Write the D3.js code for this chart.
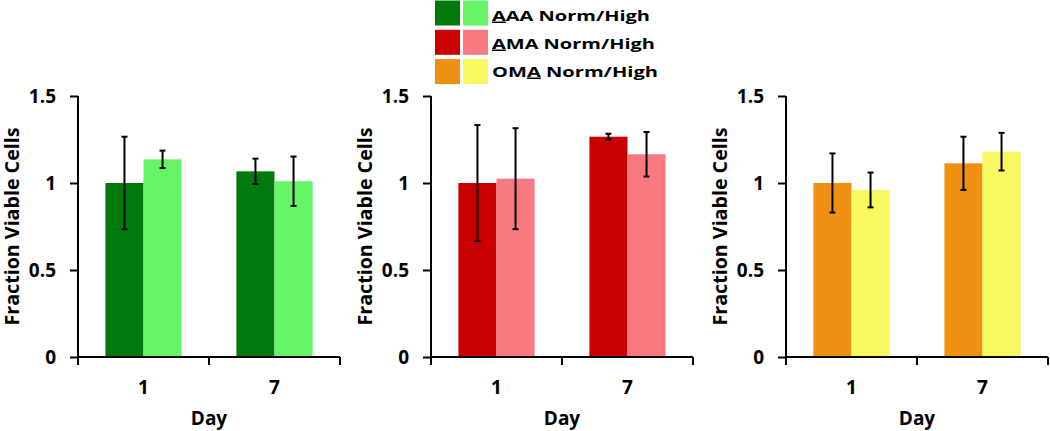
<!DOCTYPE html>
<html>
<head>
<meta charset="utf-8">
<script src="https://cdn.jsdelivr.net/npm/d3@7"></script>
<style>
  body { margin: 0; background: #fff; }
  svg { display: block; }
  text { font-family: "Open Sans", Lato, sans-serif; font-weight: bold; fill: #000; }
</style>
</head>
<body>
<div id="container"></div>
<script>
// days on the x axis
var days = ["1", "7"];
var yTicks = [0, 0.5, 1, 1.5];

// group names for the legend, and which letter is underlined
var groupNames = ["AAA", "AMA", "OMA"];
var underlineAt = [0, 0, 2];

// fraction viable cells, Norm and High, with error bars
var aaaNorm = [1.0, 1.067];
var aaaNormErr = [0.266, 0.073];
var aaaHigh = [1.136, 1.01];
var aaaHighErr = [0.05, 0.142];

var amaNorm = [1.0, 1.266];
var amaNormErr = [0.333, 0.017];
var amaHigh = [1.025, 1.165];
var amaHighErr = [0.29, 0.128];

var omaNorm = [1.0, 1.113];
var omaNormErr = [0.17, 0.153];
var omaHigh = [0.96, 1.18];
var omaHighErr = [0.1, 0.108];

var panels = [
  { norm: aaaNorm, normErr: aaaNormErr, high: aaaHigh, highErr: aaaHighErr,
    colors: ["#007a0c", "#66f566"], left: 78 },
  { norm: amaNorm, normErr: amaNormErr, high: amaHigh, highErr: amaHighErr,
    colors: ["#c80000", "#f87a80"], left: 431 },
  { norm: omaNorm, normErr: omaNormErr, high: omaHigh, highErr: omaHighErr,
    colors: ["#f09012", "#f8f860"], left: 786 }
];

var svg = d3
  .select("#container")
  .append("svg")
  .attr("width", 1050)
  .attr("height", 431);

var plotW = 262;
var y = d3.scaleLinear().domain([0, 1.5]).range([357, 96]);

panels.forEach(function(p) {
  var g = svg.append("g").attr("transform", "translate(" + p.left + ",0)");

  var x = d3.scaleBand().domain(days).range([0, plotW]).padding(0);
  var sub = d3
    .scaleBand()
    .domain(["norm", "high"])
    .range([0, x.bandwidth()])
    .paddingInner(0)
    .paddingOuter(0.72);

  var rows = [];
  days.forEach(function(d, i) {
    rows.push({ day: d, key: "norm", v: p.norm[i], e: p.normErr[i], c: p.colors[0] });
    rows.push({ day: d, key: "high", v: p.high[i], e: p.highErr[i], c: p.colors[1] });
  });

  g.selectAll("rect.bar")
    .data(rows)
    .enter()
    .append("rect")
    .attr("class", "bar")
    .attr("x", d => x(d.day) + sub(d.key))
    .attr("width", sub.bandwidth())
    .attr("y", d => y(d.v))
    .attr("height", d => y(0) - y(d.v))
    .style("fill", d => d.c);

  // error bars
  var eb = g.selectAll("g.err").data(rows).enter().append("g").attr("class", "err");
  eb.append("line")
    .attr("x1", d => x(d.day) + sub(d.key) + sub.bandwidth() / 2)
    .attr("x2", d => x(d.day) + sub(d.key) + sub.bandwidth() / 2)
    .attr("y1", d => y(d.v - d.e))
    .attr("y2", d => y(d.v + d.e));
  [-1, 1].forEach(function(s) {
    eb.append("line")
      .attr("x1", d => x(d.day) + sub(d.key) + sub.bandwidth() / 2 - 3)
      .attr("x2", d => x(d.day) + sub(d.key) + sub.bandwidth() / 2 + 3)
      .attr("y1", d => y(d.v + s * d.e))
      .attr("y2", d => y(d.v + s * d.e));
  });
  eb.selectAll("line").style("stroke", "#000").style("stroke-width", 2);

  // y axis
  var ya = g.append("g").call(
    d3.axisLeft(y).tickValues(yTicks).tickSize(8).tickPadding(14).tickFormat(d3.format(""))
  );
  ya.select(".domain").attr("d", "M0," + y(1.5) + "V" + y(0));
  ya.selectAll("line, path").style("stroke", "#000").style("stroke-width", 2);
  ya.selectAll("text").style("font-size", "19px").style("font-family", null);

  // x axis, ticks on the band edges
  var xa = g
    .append("g")
    .attr("transform", "translate(0," + y(0) + ")")
    .call(d3.axisBottom(x).tickSize(0).tickPadding(24));
  xa.select(".domain").attr("d", "M-1,0H" + plotW);
  xa.selectAll("path").style("stroke", "#000").style("stroke-width", 2);
  xa.selectAll("text").style("font-size", "19px").style("font-family", null);
  var edges = [0].concat(days.map(d => x(d) + x.bandwidth()));
  xa.selectAll("line.edge")
    .data(edges)
    .enter()
    .append("line")
    .attr("class", "edge")
    .attr("x1", d => d)
    .attr("x2", d => d)
    .attr("y1", 0)
    .attr("y2", 8)
    .style("stroke", "#000")
    .style("stroke-width", 2);

  g.append("text")
    .attr("transform", "translate(-59," + (y(0) + y(1.5)) / 2 + ") rotate(-90)")
    .attr("text-anchor", "middle")
    .attr("textLength", 198)
    .attr("lengthAdjust", "spacingAndGlyphs")
    .style("font-size", "19px")
    .text("Fraction Viable Cells");

  g.append("text")
    .attr("x", plotW / 2)
    .attr("y", 425)
    .attr("text-anchor", "middle")
    .style("font-size", "19px")
    .text("Day");
});

// legend
var leg = svg.append("g");
var legW = [158, 163, 166];
groupNames.forEach(function(name, i) {
  var top = 0.5 + i * 29.3;
  leg.append("rect").attr("x", 435).attr("y", top).attr("width", 25).attr("height", 25)
    .style("fill", panels[i].colors[0]);
  leg.append("rect").attr("x", 463).attr("y", top).attr("width", 25).attr("height", 25)
    .style("fill", panels[i].colors[1]);
  var t = leg.append("text")
    .attr("x", 492)
    .attr("y", 20.5 + i * 28)
    .attr("textLength", legW[i])
    .attr("lengthAdjust", "spacingAndGlyphs")
    .style("font-size", "15px");
  var k = underlineAt[i];
  t.append("tspan").text(name.slice(0, k));
  t.append("tspan").style("text-decoration", "underline").text(name.charAt(k));
  t.append("tspan").text(name.slice(k + 1) + " Norm/High");
});
</script>
</body>
</html>
